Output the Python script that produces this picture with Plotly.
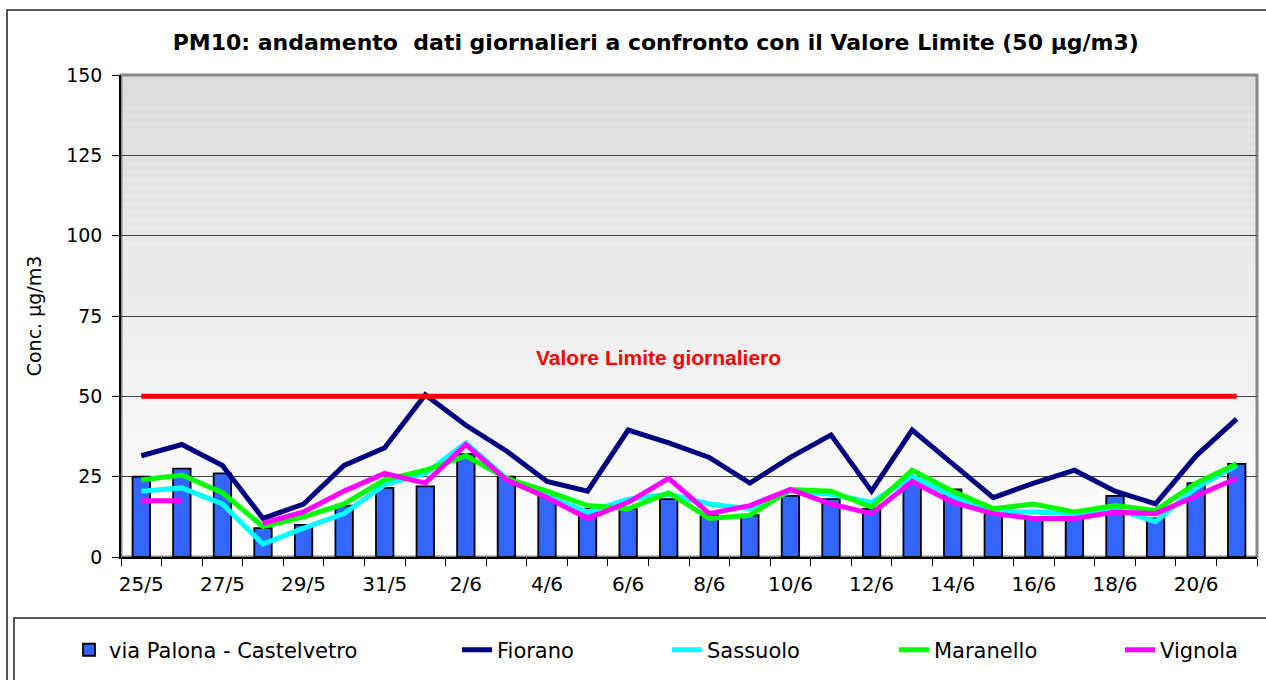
import plotly.graph_objects as go

dates = ["25/5", "26/5", "27/5", "28/5", "29/5", "30/5", "31/5",
         "1/6", "2/6", "3/6", "4/6", "5/6", "6/6", "7/6", "8/6", "9/6", "10/6",
         "11/6", "12/6", "13/6", "14/6", "15/6", "16/6", "17/6", "18/6", "19/6", "20/6", "21/6"]

castelvetro = [25, 27.5, 26, 9, 10, 16, 21.5, 22, 32, 25, 19, 15, 15, 18, 13, 13, 19,
               18, 15, 24, 21, 14, 12, 12, 19, 12, 23, 29]
fiorano = [31.5, 35, 28.5, 12, 16.5, 28.5, 34, 50.5, 41, 33, 23.5, 20.5, 39.5, 35.5, 31, 23, 31,
           38, 20.5, 39.5, 29, 18.5, 23, 27, 20.5, 16.5, 31.5, 43]
sassuolo = [20.5, 21.5, 16.5, 4, 9, 13.5, 22.5, 26, 35.5, 24.5, 19, 14, 18, 19.5, 16.5, 15, 20.5,
            19.5, 17, 25, 19, 14, 14, 13.5, 15, 11, 21.5, 28.5]
maranello = [24, 25.5, 20, 9.5, 12.5, 16.5, 24, 27, 31.5, 24.5, 20.5, 16, 15, 20, 12, 13, 21,
             20.5, 15.5, 27, 20.5, 15, 16.5, 14, 16, 14.5, 23, 29]
vignola = [17.5, 17.5, None, 10.5, 14, 20.5, 26, 23, 35, 24, 18.5, 12, 17, 24.5, 13.5, 16, 21,
           16.5, 13.5, 23.5, 17, 13.5, 12, 12, 14, 13.5, 19, 24.5]
limite = [50] * len(dates)

y_ticks = [0, 25, 50, 75, 100, 125, 150]
x_ticktext = [d if i % 2 == 0 else "" for i, d in enumerate(dates)]

FONT = "DejaVu Sans"

fig = go.Figure()
fig.add_trace(go.Bar(x=dates, y=castelvetro, name="via Palona - Castelvetro",
                     marker=dict(color="#3366FF", line=dict(color="black", width=1.8)),
                     legend="legend"))
fig.add_trace(go.Scatter(x=dates, y=fiorano, name="Fiorano", mode="lines",
                         line=dict(color="#000080", width=5), legend="legend2"))
fig.add_trace(go.Scatter(x=dates, y=sassuolo, name="Sassuolo", mode="lines",
                         line=dict(color="#00FFFF", width=5), legend="legend3"))
fig.add_trace(go.Scatter(x=dates, y=maranello, name="Maranello", mode="lines",
                         line=dict(color="#00FF00", width=5), legend="legend4"))
fig.add_trace(go.Scatter(x=dates, y=vignola, name="Vignola", mode="lines", connectgaps=False,
                         line=dict(color="#FF00FF", width=5), legend="legend5"))
fig.add_trace(go.Scatter(x=dates, y=limite, name="Valore Limite", mode="lines",
                         line=dict(color="#FF0000", width=5), showlegend=False))

# gradient plot background
shapes = []
n = 60
for k in range(n):
    y0 = 150 * k / n
    y1 = 150 * (k + 1) / n
    f = (k + 0.5) / n
    c = int(round(255 - 35 * f))
    shapes.append(dict(type="rect", xref="paper", yref="y", x0=0, x1=1, y0=y0, y1=y1,
                       fillcolor=f"rgb({c},{c},{c})", line=dict(width=0), layer="below"))
# plot area border (top/right gray)
shapes.append(dict(type="rect", xref="paper", yref="paper", x0=0, x1=1, y0=0, y1=1,
                   line=dict(color="#888888", width=3), layer="below"))
# outer chart frame
shapes.append(dict(type="rect", xref="paper", yref="paper",
                   x0=(7 - 121) / 1136, x1=1.05, y0=(557 - 690) / 482, y1=(557 - 10) / 482,
                   line=dict(color="#222222", width=1.5), layer="below"))
# legend box
shapes.append(dict(type="rect", xref="paper", yref="paper",
                   x0=(14 - 121) / 1136, x1=1.05, y0=(557 - 690) / 482, y1=(557 - 618) / 482,
                   line=dict(color="#222222", width=1.5), layer="below"))

leg_common = dict(orientation="h", xref="container", yref="container", y=0.044,
                  yanchor="middle", xanchor="left", bgcolor="rgba(0,0,0,0)",
                  font=dict(family=FONT, size=21, color="black"))

fig.update_layout(
    width=1266, height=680,
    margin=dict(l=121, r=9, t=75, b=123, autoexpand=False),
    paper_bgcolor="white", plot_bgcolor="white",
    bargap=0.57,
    font=dict(family=FONT, size=19, color="black"),
    title=dict(text="PM10: andamento\u00a0 dati giornalieri a confronto con il Valore Limite (50 µg/m3)",
               x=0.518, xref="container", xanchor="center", y=1 - 42 / 680, yref="container",
               yanchor="middle", font=dict(family=FONT, size=22, color="black", weight="bold")),
    xaxis=dict(type="category", tickmode="array", tickvals=dates, ticktext=x_ticktext,
               tickson="boundaries", ticks="outside", ticklen=7, tickcolor="black",
               showline=True, linecolor="black", linewidth=1.5, showgrid=False,
               automargin=False, ticklabelstandoff=8,
               tickangle=0, tickfont=dict(family=FONT, size=20)),
    yaxis=dict(range=[0, 150], tickvals=y_ticks, ticks="outside", ticklen=7, tickcolor="black",
               showline=True, linecolor="black", linewidth=1.5, automargin=False,
               ticklabelstandoff=6,
               showgrid=True, gridcolor="#444444", gridwidth=1, zeroline=False,
               tickfont=dict(family=FONT, size=19),
               title=dict(text="Conc. µg/m3", font=dict(family=FONT, size=19), standoff=20)),
    shapes=shapes,
    annotations=[dict(text="<b>Valore Limite giornaliero</b>", x=0.473, xref="paper",
                      y=62, yref="y", showarrow=False, xanchor="center", yanchor="middle",
                      font=dict(family="Liberation Sans", size=21, color="#FF0000"))],
    legend=dict(leg_common, x=69 / 1266),
    legend2=dict(leg_common, x=457 / 1266),
    legend3=dict(leg_common, x=667 / 1266),
    legend4=dict(leg_common, x=894 / 1266),
    legend5=dict(leg_common, x=1243 / 1266, xanchor="right"),
    showlegend=True,
)

fig.write_html("out.html", config={"displayModeBar": False},
               post_script="document.body.style.margin='0px';")
